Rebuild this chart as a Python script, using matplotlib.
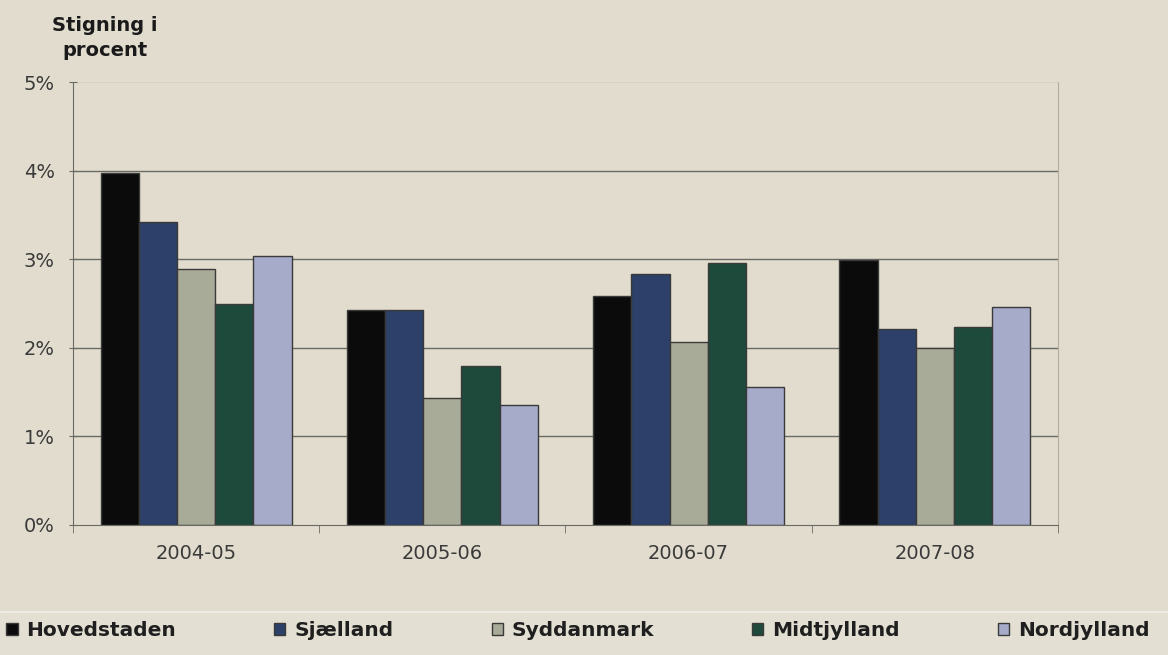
"""Price increase per region, grouped bar chart."""

import matplotlib.pyplot as plt
import numpy as np
from matplotlib.patches import Rectangle
from matplotlib.ticker import FuncFormatter, FixedLocator

periods = ["2004-05", "2005-06", "2006-07", "2007-08"]
regions = ["Hovedstaden", "Sjælland", "Syddanmark", "Midtjylland", "Nordjylland"]
hovedstaden = [3.97, 2.43, 2.58, 2.99]
sjaelland = [3.42, 2.43, 2.83, 2.21]
syddanmark = [2.89, 1.43, 2.07, 2.00]
midtjylland = [2.49, 1.79, 2.96, 2.23]
nordjylland = [3.04, 1.35, 1.56, 2.46]
colors = ["#0b0b0b", "#2c4069", "#a9ab99", "#1d4a3b", "#a5abc9"]

BG = "#e1dccd"
GRID = "#6b6b66"

fig = plt.figure(figsize=(11.68, 6.55), dpi=100, facecolor=BG)
ax = fig.add_axes([0.0625, 0.1985, 0.8433, 0.6763])
ax.set_facecolor(BG)

series = [hovedstaden, sjaelland, syddanmark, midtjylland, nordjylland]
x = np.arange(len(periods))
width = 0.155
for i, (vals, name, col) in enumerate(zip(series, regions, colors)):
    ax.bar(x + (i - 2) * width, vals, width, color=col, edgecolor="#3a3a3a",
           linewidth=1.0, label=name, zorder=3)

ax.set_xlim(-0.5, len(periods) - 0.5)
ax.set_ylim(0, 5)
yticks = np.arange(0, 6, 1)
ax.set_yticks(yticks)
ax.yaxis.set_major_formatter(FuncFormatter(lambda v, _: f"{v:.0f}%"))
# gridlines 1-4 dark, top one faint
for yv in yticks[1:-1]:
    ax.axhline(yv, color=GRID, linewidth=1.0, zorder=0)
ax.axhline(yticks[-1], color="#d6d2c6", linewidth=1.5, zorder=1)

ax.set_xticks(x)
ax.set_xticklabels(periods)
ax.xaxis.set_minor_locator(FixedLocator(np.arange(-0.5, len(periods), 1.0)))
ax.tick_params(axis="x", which="major", length=0, pad=14)
ax.tick_params(axis="x", which="minor", length=6, direction="out", color=GRID)
ax.tick_params(axis="y", length=6, direction="inout", color=GRID, pad=10)
for lbl in ax.get_xticklabels() + ax.get_yticklabels():
    lbl.set_fontsize(14)
    lbl.set_color("#3a3a3a")

ax.spines["top"].set_visible(False)
ax.spines["left"].set_color(GRID)
ax.spines["bottom"].set_color(GRID)
ax.spines["right"].set_color("#b0aca0")
ax.spines["bottom"].set_zorder(4)

fig.text(0.09, 0.942, "Stigning i\nprocent", ha="center", va="center",
         fontsize=14, fontweight="bold", color="#1a1a1a", linespacing=1.45)

# legend band at the bottom
fig.add_artist(Rectangle((0, 0), 1, 0.066, transform=fig.transFigure,
                         facecolor="#e3dfd2", edgecolor="none", zorder=0))
fig.add_artist(plt.Line2D([0, 1], [0.066, 0.066], transform=fig.transFigure,
                          color="#eeebe2", linewidth=1.5))

handles, labels = ax.get_legend_handles_labels()
leg = fig.legend(handles, labels, loc="lower left", ncol=5, mode="expand",
                 bbox_to_anchor=(-0.01, -0.005, 1.01, 0.06), frameon=False,
                 handlelength=0.55, handleheight=0.55, handletextpad=0.45,
                 prop={"size": 14.5, "weight": "bold"})
for t in leg.get_texts():
    t.set_color("#1f1f1f")

fig.savefig("out.png", dpi=100, facecolor=BG)
